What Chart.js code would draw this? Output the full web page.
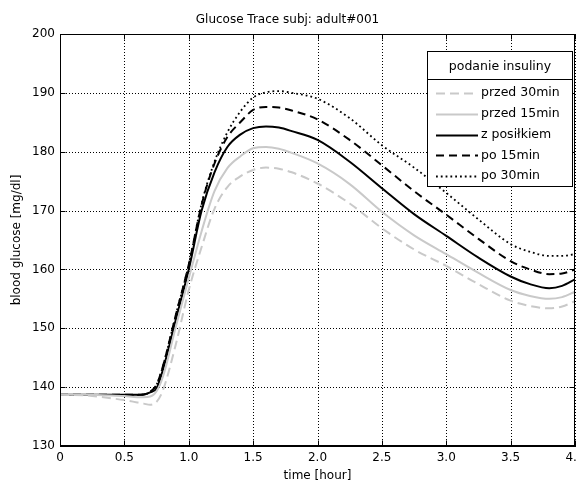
<!DOCTYPE html>
<html><head><meta charset="utf-8">
<script src="https://cdn.jsdelivr.net/npm/chart.js@4/dist/chart.umd.min.js"></script>
<style>html,body{margin:0;padding:0;background:#fff;overflow:hidden}</style>
</head><body>
<canvas id="c" width="577" height="483"></canvas>
<script>
// time [hour]
const times      = [0,     0.2,   0.4,   0.5,   0.6,   0.65,  0.7,   0.75,  0.8,   0.9,   1.0,   1.1,   1.2,   1.3,   1.4,   1.5,   1.6,   1.7,   1.8,   2.0,   2.25,  2.5,   2.75,  3.0,   3.25,  3.5,   3.65,  3.8,   3.9,   4.0];
// blood glucose [mg/dl]
const przed30    = [138.7, 138.6, 138.1, 137.8, 137.4, 137.2, 137.0, 137.5, 139.5, 147.3, 156.5, 163.8, 170.3, 174.0, 175.8, 176.9, 177.3, 177.1, 176.5, 174.6, 171.2, 167.0, 163.4, 160.6, 157.5, 154.7, 153.8, 153.4, 153.7, 154.6];
const przed15    = [138.7, 138.7, 138.6, 138.5, 138.3, 138.3, 138.4, 139.3, 141.8, 150.3, 158.5, 166.5, 173.3, 177.2, 179.2, 180.6, 180.8, 180.5, 179.8, 178.0, 174.5, 169.8, 165.8, 162.6, 159.4, 156.5, 155.5, 155.0, 155.3, 156.2];
const zPosilkiem = [138.7, 138.7, 138.7, 138.7, 138.7, 138.75,139.1, 139.8, 143.0, 151.5, 160.0, 170.0, 176.5, 180.8, 182.9, 184.0, 184.3, 184.1, 183.5, 182.0, 178.3, 173.8, 169.4, 165.7, 162.0, 158.8, 157.5, 156.8, 157.2, 158.3];
const po15       = [138.7, 138.7, 138.7, 138.7, 138.7, 138.75,139.2, 140.4, 143.6, 152.3, 160.8, 171.0, 178.0, 182.5, 185.0, 187.1, 187.6, 187.5, 187.0, 185.5, 182.0, 177.7, 173.3, 169.3, 165.2, 161.4, 160.0, 159.2, 159.3, 160.0];
const po30       = [138.7, 138.7, 138.7, 138.7, 138.7, 138.75,139.2, 140.4, 143.6, 152.3, 160.8, 171.2, 178.3, 183.3, 186.8, 189.2, 190.1, 190.3, 190.0, 189.0, 185.7, 181.1, 177.3, 173.0, 168.5, 164.3, 163.0, 162.3, 162.3, 162.6];
const seriesLabels = ['przed 30min', 'przed 15min', 'z posiłkiem', 'po 15min', 'po 30min'];
const xTicks = [0, 0.5, 1, 1.5, 2, 2.5, 3, 3.5, 4];
const yTicks = [130, 140, 150, 160, 170, 180, 190, 200];
const chartTitle = 'Glucose Trace subj: adult#001';
const legendTitle = 'podanie insuliny';
const xTitle = 'time [hour]';
const yTitle = 'blood glucose [mg/dl]';

const FONT = "'DejaVu Sans', sans-serif";
const LIGHT = '#c9c9c9';
const mk = arr => times.map((t, i) => ({x: t, y: arr[i]}));
const styles = [
  {borderColor: LIGHT, borderWidth: 2, borderDash: [9, 5]},
  {borderColor: LIGHT, borderWidth: 2, borderDash: []},
  {borderColor: '#000', borderWidth: 2, borderDash: []},
  {borderColor: '#000', borderWidth: 2, borderDash: [8, 5]},
  {borderColor: '#000', borderWidth: 1.8, borderDash: [1.8, 3]}
];
const values = [przed30, przed15, zPosilkiem, po15, po30];
const datasets = values.map((v, i) => Object.assign({
  label: seriesLabels[i], data: mk(v), pointRadius: 0, fill: false,
  cubicInterpolationMode: 'monotone'
}, styles[i]));

const boxPlugin = {
  id: 'matlabBox',
  beforeDatasetsDraw(chart) {
    const {ctx, chartArea: a, scales} = chart;
    ctx.save();
    ctx.strokeStyle = '#000'; ctx.lineWidth = 1; ctx.setLineDash([1, 2]);
    ctx.beginPath();
    xTicks.forEach(v => {
      const px = Math.round(scales.x.getPixelForValue(v)) + 0.5;
      ctx.moveTo(px, a.bottom); ctx.lineTo(px, a.top);
    });
    yTicks.forEach(v => {
      const py = Math.round(scales.y.getPixelForValue(v)) + 0.5;
      ctx.moveTo(a.left, py); ctx.lineTo(a.right, py);
    });
    ctx.stroke();
    ctx.restore();
  },
  afterDatasetsDraw(chart) {
    const {ctx, chartArea: a, scales} = chart;
    ctx.save();
    ctx.strokeStyle = '#000'; ctx.lineWidth = 1;
    const L = Math.round(a.left) + 0.5, R = Math.round(a.right) - 0.5;
    const T = Math.round(a.top) + 0.5, B = Math.round(a.bottom) - 0.5;
    ctx.strokeRect(L, T, R - L, B - T);
    ctx.beginPath();
    xTicks.forEach(v => {
      const px = Math.round(scales.x.getPixelForValue(v)) + 0.5;
      ctx.moveTo(px, B); ctx.lineTo(px, B - 5);
      ctx.moveTo(px, T); ctx.lineTo(px, T + 5);
    });
    yTicks.forEach(v => {
      const py = Math.round(scales.y.getPixelForValue(v)) + 0.5;
      ctx.moveTo(L, py); ctx.lineTo(L + 5, py);
      ctx.moveTo(R, py); ctx.lineTo(R - 5, py);
    });
    ctx.stroke();
    ctx.restore();
  },
  afterDraw(chart) {
    const ctx = chart.ctx;
    const x0 = 427.5, y0 = 51.5, w = 145, h = 135, divY = 79.5;
    ctx.save();
    ctx.fillStyle = '#fff'; ctx.fillRect(x0, y0, w, h);
    ctx.strokeStyle = '#000'; ctx.lineWidth = 1; ctx.setLineDash([]);
    ctx.strokeRect(x0, y0, w, h);
    ctx.beginPath(); ctx.moveTo(x0, divY); ctx.lineTo(x0 + w, divY); ctx.stroke();
    ctx.fillStyle = '#000'; ctx.font = '12.5px ' + FONT;
    ctx.textAlign = 'center'; ctx.textBaseline = 'middle';
    ctx.fillText(legendTitle, x0 + w / 2, (y0 + divY) / 2 + 1);
    ctx.textAlign = 'left';
    chart.data.datasets.forEach((ds, i) => {
      const y = 93 + i * 20.8;
      ctx.save();
      ctx.strokeStyle = ds.borderColor; ctx.lineWidth = ds.borderWidth;
      ctx.setLineDash(ds.borderDash || []);
      ctx.beginPath(); ctx.moveTo(436, Math.round(y) + 0.5); ctx.lineTo(478, Math.round(y) + 0.5); ctx.stroke();
      ctx.restore();
      ctx.fillText(ds.label, 481, y);
    });
    ctx.restore();
  }
};

new Chart(document.getElementById('c'), {
  type: 'line',
  data: {datasets},
  options: {
    responsive: false, animation: false, devicePixelRatio: 1,
    layout: {padding: {left: 0, right: 2, top: 0, bottom: 0}},
    plugins: {
      legend: {display: false}, tooltip: {enabled: false},
      title: {display: true, text: chartTitle, color: '#000',
              font: {family: FONT, size: 12, weight: 'normal'}, padding: {top: 12.5, bottom: 7.1}}
    },
    scales: {
      x: {
        type: 'linear', min: 0, max: 4,
        afterBuildTicks: s => { s.ticks = xTicks.map(v => ({value: v})); },
        afterFit: s => { s.height = 37; s.paddingRight = 2; s.paddingLeft = 0; },
        ticks: {color: '#000', font: {family: FONT, size: 12}, padding: 5, maxRotation: 0, autoSkip: false},
        grid: {display: false, drawTicks: false},
        border: {display: true, color: '#000'},
        title: {display: true, text: xTitle, color: '#000', font: {family: FONT, size: 12}, padding: {top: 0, bottom: 0}}
      },
      y: {
        type: 'linear', min: 130, max: 200,
        afterBuildTicks: s => { s.ticks = yTicks.map(v => ({value: v})); },
        afterFit: s => { s.width = 60; },
        ticks: {color: '#000', font: {family: FONT, size: 12}, padding: 5},
        grid: {display: false, drawTicks: false},
        border: {display: true, color: '#000'},
        title: {display: true, text: yTitle, color: '#000', font: {family: FONT, size: 12}, padding: {top: 10, bottom: 0}}
      }
    }
  },
  plugins: [boxPlugin]
});
</script>
</body></html>
